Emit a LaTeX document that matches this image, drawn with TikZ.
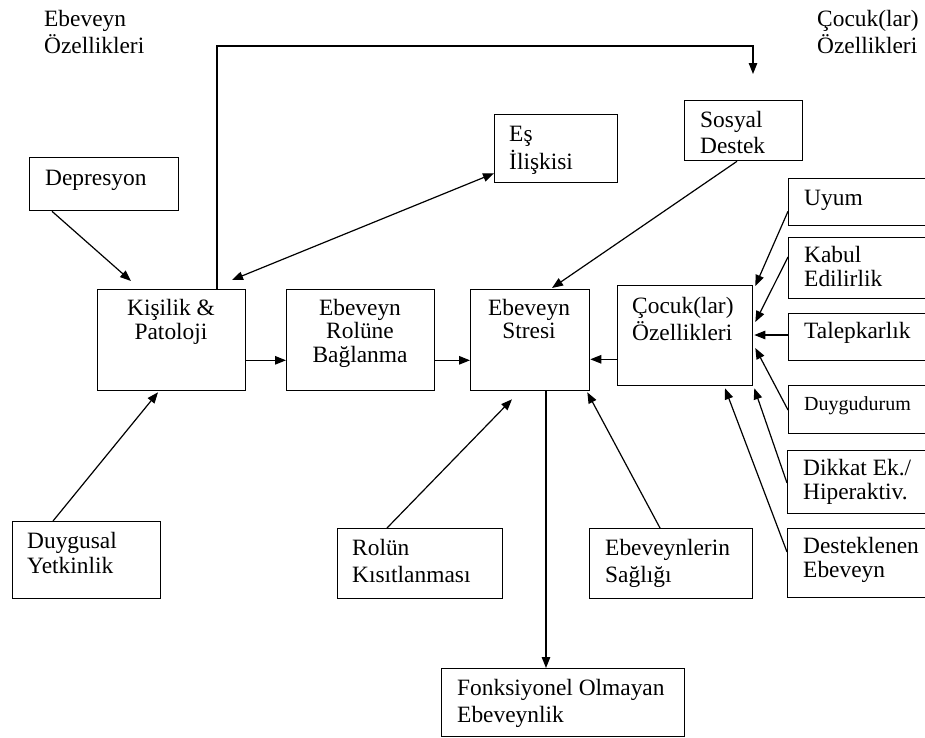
\documentclass[tikz,border=0pt]{standalone}
\usepackage{fontspec}
\setmainfont{Liberation Serif}
\usetikzlibrary{calc,arrows.meta}
\tikzset{
  bx/.style={draw, line width=1.3pt, inner sep=0pt, anchor=north west},
  arr/.style={line width=1.2pt, -{Triangle[length=11pt,width=8.5pt]}},
  darr/.style={line width=1.2pt, {Triangle[length=11pt,width=8.5pt]}-{Triangle[length=11pt,width=8.5pt]}},
  tx/.style={inner sep=0pt, anchor=north west, align=left, font=\fontsize{23.4}{#1}\selectfont},
  tx/.default=25,
  txc/.style={tx=#1, anchor=north, align=center},
  txsmall/.style={inner sep=0pt, anchor=north west, align=left, font=\fontsize{20}{22}\selectfont},
}
\begin{document}
\begin{tikzpicture}[x=1pt,y=-1pt]
\useasboundingbox (0,0) rectangle (925,737);
% boxes
\node[bx, minimum width=149pt, minimum height=53pt] (dep) at (29,157) {};
\node[bx, minimum width=148pt, minimum height=101pt] (kis) at (97,289) {};
\node[bx, minimum width=148pt, minimum height=101pt] (rol) at (286,289) {};
\node[bx, minimum width=119pt, minimum height=101pt] (str) at (470,289) {};
\node[bx, minimum width=135pt, minimum height=100pt] (cocuk) at (617,285) {};
\node[bx, minimum width=123pt, minimum height=68pt] (es) at (494,114) {};
\node[bx, minimum width=118pt, minimum height=60pt] (sos) at (684,100) {};
\node[bx, minimum width=142pt, minimum height=47pt] (uyum) at (788,178) {};
\node[bx, minimum width=142pt, minimum height=61pt] (kabul) at (788,237) {};
\node[bx, minimum width=142pt, minimum height=47pt] (talep) at (788,313) {};
\node[bx, minimum width=142pt, minimum height=48pt] (duygu) at (788,385) {};
\node[bx, minimum width=143pt, minimum height=63pt] (dikkat) at (787,450) {};
\node[bx, minimum width=143pt, minimum height=69pt] (destek) at (787,528) {};
\node[bx, minimum width=163pt, minimum height=70pt] (sag) at (589,528) {};
\node[bx, minimum width=165pt, minimum height=70pt] (rolk) at (337,528) {};
\node[bx, minimum width=243pt, minimum height=68pt] (fonk) at (441,668) {};
\node[bx, minimum width=148pt, minimum height=77pt] (duyg) at (12,521) {};
% texts
\node[tx=26] (lblE) at (44,7.8) {\strut Ebeveyn\\Özellikleri};
\node[tx=26] (lblC) at (817,7.8) {\strut Çocuk(lar)\\Özellikleri};
\node[tx] (tdep) at (45,167.5) {\strut Depresyon};
\node[txc=23] (tkis) at (171,298.9) {\strut Kişilik \&\\Patoloji};
\node[txc=23.5] (trol) at (360,298.5) {\strut Ebeveyn\\Rolüne\\Bağlanma};
\node[txc=23] (tstr) at (529,299) {\strut Ebeveyn\\Stresi};
\node[tx=24] (tcocuk) at (632,296.2) {\strut Çocuk(lar)\\Özellikleri};
\node[tx=26] (tes) at (509,122.8) {\strut Eş\\İlişkisi};
\node[tx=26] (tsos) at (700,108.8) {\strut Sosyal\\Destek};
\node[tx] (tuyum) at (804,187.5) {\strut Uyum};
\node[tx=23] (tkabul) at (804,245.9) {\strut Kabul\\Edilirlik};
\node[tx] (ttalep) at (804,320.5) {\strut Talepkarlık};
\node[txsmall] (tduygu) at (804,394.6) {\strut Duygudurum};
\node[tx=23] (tdikkat) at (803,458.9) {\strut Dikkat Ek./\\Hiperaktiv.};
\node[tx=24] (tdestek) at (803,536.2) {\strut Desteklenen\\Ebeveyn};
\node[tx=27] (trolk) at (352,536.1) {\strut Rolün\\Kısıtlanması};
\node[tx=27] (tsag) at (605,536.1) {\strut Ebeveynlerin\\Sağlığı};
\node[tx=27] (tfonk) at (457,676.1) {\strut Fonksiyonel Olmayan\\Ebeveynlik};
\node[tx] (tduyg) at (27,530.5) {\strut Duygusal\\Yetkinlik};
% connectors
\coordinate (tc) at (753,46);
\coordinate (te) at (753,74);
\draw[arr] ($(kis.north west)+(120,0)$) |- (tc) -- (te);
\draw[arr] ($(dep.south west)+(23,0)$) -- ($(kis.north west)+(34,-8)$);
\draw[arr] ($(duyg.north west)+(41,0)$) -- ($(kis.south west)+(61,1)$);
\draw[darr] ($(es.south west)+(0,-10)$) -- ($(kis.north west)+(135,-9)$);
\draw[arr] ($(kis.south east)+(0,-31)$) -- ($(rol.south west)+(0,-31)$);
\draw[arr] ($(rol.south east)+(0,-31)$) -- ($(str.south west)+(0,-31)$);
\draw[arr] ($(sos.south west)+(53,0)$) -- ($(str.north west)+(82,-1)$);
\draw[arr] ($(cocuk.south west)+(0,-27)$) -- ($(str.south east)+(0,-32)$);
\draw[arr] ($(str.south west)+(76,0)$) -- ($(fonk.north west)+(105,0)$);
\draw[arr] ($(rolk.north west)+(50,0)$) -- ($(str.south west)+(42,8)$);
\draw[arr] ($(sag.north west)+(71,0)$) -- ($(str.south east)+(-3,1)$);
\draw[arr] ($(uyum.south west)+(0,-15)$) -- ($(cocuk.north east)+(2,1)$);
\draw[arr] ($(kabul.north west)+(0,20)$) -- ($(cocuk.north east)+(2,37)$);
\draw[arr] ($(talep.north west)+(0,22)$) -- ($(cocuk.north east)+(1,50)$);
\draw[arr] ($(duygu.north west)+(0,25)$) -- ($(cocuk.north east)+(2,63)$);
\draw[arr] ($(dikkat.north west)+(0,33)$) -- ($(cocuk.south east)+(1,2)$);
\draw[arr] ($(destek.north west)+(0,24)$) -- ($(cocuk.south west)+(108,2)$);
\end{tikzpicture}
\end{document}
